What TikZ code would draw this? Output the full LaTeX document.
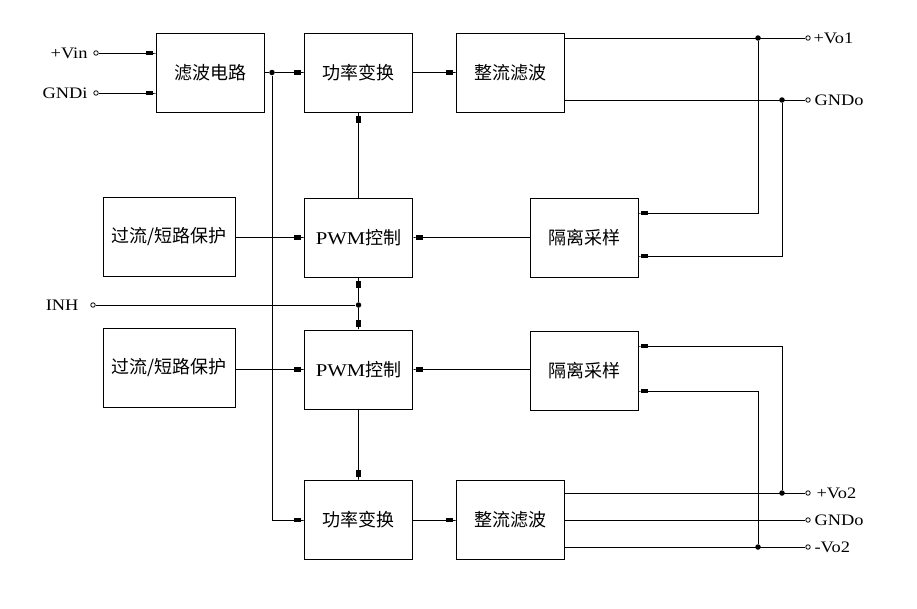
\documentclass[tikz,border=0pt]{standalone}
\usepackage{fontspec}
\setmainfont{Liberation Serif}
\newfontfamily\cjk{Noto Sans CJK SC}
\newfontfamily\lat[FakeStretch=1.15]{Liberation Serif}
\usetikzlibrary{arrows.meta}
\begin{document}
\begin{tikzpicture}[x=1pt,y=-1pt,line width=1pt,
  box/.style={draw,minimum width=108pt,minimum height=79pt,inner sep=0pt,font=\cjk\fontsize{18}{19}\selectfont},
  wbox/.style={box,minimum width=132pt},
  arr/.style={-{Rectangle[length=7pt,width=4.5pt]Rectangle[length=3pt,width=1pt]}},
  term/.style={circle,draw,line width=0.8pt,fill=white,inner sep=0pt,minimum size=4.5pt},
  jdot/.style={circle,fill,inner sep=0pt,minimum size=5.5pt},
  lab/.style={font=\lat\fontsize{16}{18}\selectfont,inner sep=1pt}]
\useasboundingbox (0,0) rectangle (917,608);

% blocks
\node[box] (filt) at (210.5,72.5) {滤波电路};
\node[box] (pc1) at (358.5,72.5) {功率变换};
\node[box] (rf1) at (510.5,72.5) {整流滤波};
\node[wbox] (oc1) at (169,236.5) {过流/短路保护};
\node[box] (pwm1) at (358.5,237.5) {{\lat PWM}控制};
\node[box] (iso1) at (584,237.5) {隔离采样};
\node[wbox] (oc2) at (169,368) {过流/短路保护};
\node[box] (pwm2) at (358.5,369.5) {{\lat PWM}控制};
\node[box] (iso2) at (584,370.5) {隔离采样};
\node[box] (pc2) at (358.5,520) {功率变换};
\node[box] (rf2) at (510.5,520) {整流滤波};

% terminals
\node[term] (vin) at (96,53) {};
\node[term] (gndi) at (96,93) {};
\node[term] (inh) at (93,305) {};
\node[term] (vo1) at (808,38) {};
\node[term] (go1) at (808,100) {};
\node[term] (vo2) at (808,493) {};
\node[term] (go2) at (808,520) {};
\node[term] (vo3) at (808,547) {};

\node[lab,anchor=east] (lvin) at (89,53) {+Vin};
\node[lab,anchor=east] (lgndi) at (89,93) {GNDi};
\node[lab,anchor=east] (linh) at (80,305) {INH};
\node[lab,anchor=west] (lvo1) at (812,38) {+Vo1};
\node[lab,anchor=west] (lgo1) at (813,100) {GNDo};
\node[lab,anchor=west] (lvo2) at (815,493) {+Vo2};
\node[lab,anchor=west] (lgo2) at (813,520) {GNDo};
\node[lab,anchor=west] (lvo3) at (813,547) {-Vo2};

% junctions
\node[jdot] (j1) at (272,72.5) {};
\node[jdot] (jn) at (358.5,305) {};
\node[jdot] (d1) at (758,38) {};
\node[jdot] (d2) at (782,100) {};
\node[jdot] (d3) at (782,493) {};
\node[jdot] (d4) at (758,547) {};

\coordinate (s1) at (638,213);
\coordinate (s2) at (638,256);
\coordinate (s3) at (638,346);
\coordinate (s4) at (638,391);

% connectors
\draw[arr] (vin) -- (vin -| filt.west);
\draw[arr] (gndi) -- (gndi -| filt.west);
\draw (filt.east |- j1) -- (j1);
\draw[arr] (j1) -- (pc1.west);
\draw[arr] (j1) |- (pc2.west);
\draw[arr] (pc1) -- (rf1);
\draw (rf1.east |- vo1) -- (vo1);
\draw (rf1.east |- go1) -- (go1);
\draw[arr] (d1) |- (s1);
\draw[arr] (d2) |- (s2);
\draw[arr] (iso1) -- (pwm1);
\draw[arr] (oc1.east |- pwm1) -- (pwm1.west);
\draw[arr] (pwm1) -- (pc1);
\draw (inh) -- (jn);
\draw[arr] (jn) -- (pwm1);
\draw[arr] (jn) -- (pwm2);
\draw[arr] (oc2.east |- pwm2) -- (pwm2.west);
\draw[arr] (iso2.west |- pwm2) -- (pwm2.east);
\draw[arr] (pwm2) -- (pc2);
\draw[arr] (pc2) -- (rf2);
\draw (rf2.east |- vo2) -- (vo2);
\draw (rf2.east |- go2) -- (go2);
\draw (rf2.east |- vo3) -- (vo3);
\draw[arr] (d3) |- (s3);
\draw[arr] (d4) |- (s4);
\end{tikzpicture}
\end{document}
